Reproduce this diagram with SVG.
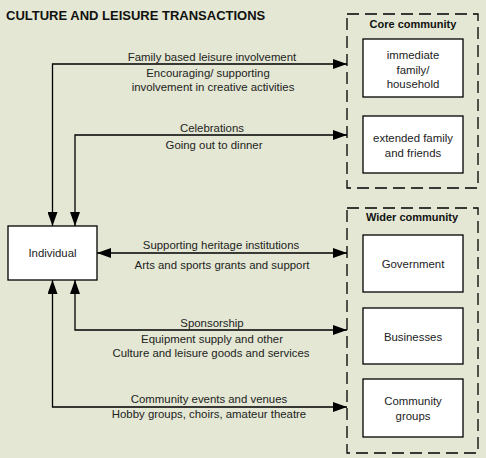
<svg xmlns="http://www.w3.org/2000/svg" width="486" height="458" viewBox="0 0 486 458">
<defs>
<marker id="ah" markerUnits="userSpaceOnUse" markerWidth="14" markerHeight="10" refX="14" refY="5" orient="auto-start-reverse">
<path d="M0,0 L14,5 L0,10 z" fill="#000"/>
</marker>
<style>
.t{font-family:"Liberation Sans",Arial,sans-serif;font-size:11.4px;fill:#222;text-anchor:middle}
.b{font-family:"Liberation Sans",Arial,sans-serif;font-weight:bold;fill:#111}
.box{fill:#fff;stroke:#000;stroke-width:1.3}
.grp{fill:none;stroke:#000;stroke-width:1.3;stroke-dasharray:12 6}
.c{fill:none;stroke:#000;stroke-width:1.3}
</style>
</defs>
<rect x="0" y="0" width="486" height="458" fill="#e3e7d3"/>
<text class="b" x="6" y="20" font-size="13">CULTURE AND LEISURE TRANSACTIONS</text>

<g id="core-community">
<rect class="grp" x="347" y="14" width="131" height="174"/>
<text class="b" x="413" y="28" font-size="11" text-anchor="middle">Core community</text>
</g>
<g id="wider-community">
<rect class="grp" x="347" y="208" width="131" height="245"/>
<text class="b" x="412" y="221" font-size="11" text-anchor="middle">Wider community</text>
</g>

<g id="individual">
<rect class="box" x="8" y="226" width="89" height="54"/>
<text class="t" x="52.5" y="257">Individual</text>
</g>
<g id="immediate-family">
<rect class="box" x="363" y="39" width="100" height="58"/>
<text class="t" x="413" y="59">immediate</text>
<text class="t" x="413" y="74">family/</text>
<text class="t" x="413" y="88">household</text>
</g>
<g id="extended-family">
<rect class="box" x="363" y="116" width="100" height="57"/>
<text class="t" x="413" y="142">extended family</text>
<text class="t" x="413" y="157">and friends</text>
</g>
<g id="government">
<rect class="box" x="363" y="235" width="100" height="57"/>
<text class="t" x="413" y="268">Government</text>
</g>
<g id="businesses">
<rect class="box" x="363" y="308" width="100" height="56"/>
<text class="t" x="413" y="341">Businesses</text>
</g>
<g id="community-groups">
<rect class="box" x="363" y="379" width="100" height="58"/>
<text class="t" x="413" y="405">Community</text>
<text class="t" x="413" y="420">groups</text>
</g>

<g id="connectors">
<path class="c" d="M52.5,226 V64 H347" marker-start="url(#ah)" marker-end="url(#ah)"/>
<path class="c" d="M75,226 V135 H347" marker-start="url(#ah)" marker-end="url(#ah)"/>
<path class="c" d="M97,253 H347" marker-start="url(#ah)" marker-end="url(#ah)"/>
<path class="c" d="M75,280 V330 H347" marker-start="url(#ah)" marker-end="url(#ah)"/>
<path class="c" d="M52.5,280 V407 H347" marker-start="url(#ah)" marker-end="url(#ah)"/>
<text class="t" x="212" y="61">Family based leisure involvement</text>
<text class="t" x="208" y="77">Encouraging/ supporting</text>
<text class="t" x="213" y="91">involvement in creative activities</text>
<text class="t" x="212" y="132">Celebrations</text>
<text class="t" x="214" y="149">Going out to dinner</text>
<text class="t" x="221" y="249">Supporting heritage institutions</text>
<text class="t" x="222" y="269">Arts and sports grants and support</text>
<text class="t" x="212" y="327">Sponsorship</text>
<text class="t" x="212" y="343">Equipment supply and other</text>
<text class="t" x="211" y="357">Culture and leisure goods and services</text>
<text class="t" x="209" y="403">Community events and venues</text>
<text class="t" x="209" y="418">Hobby groups, choirs, amateur theatre</text>
</g>
</svg>
